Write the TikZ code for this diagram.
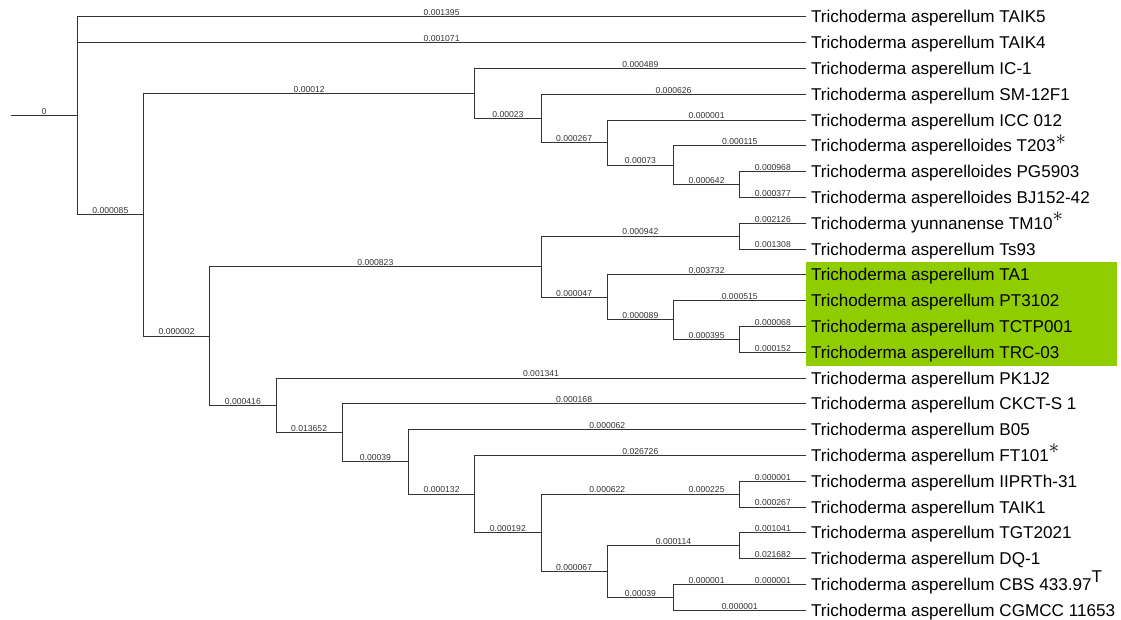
\documentclass[tikz,border=0pt]{standalone}
\usepackage{fontspec}
\setmainfont{Liberation Sans}
\usepackage{tikz}

\definecolor{cladegreen}{RGB}{143,204,0}
\newcommand{\typestar}{\raisebox{7.5pt}{\fontsize{21}{21}\selectfont$\ast$}}
\newcommand{\typemark}{\raisebox{8pt}{T}}

\tikzset{
  branch/.style={draw=black!80, line width=0.8pt},
  brlen/.style={font=\fontsize{8.6}{9}\selectfont, text=black!80, inner sep=0.6pt, above},
  strain/.style={anchor=west, inner xsep=5pt, inner ysep=0pt, outer sep=0pt,
    font=\fontsize{17.1}{20}\selectfont, text height=12.2pt, text depth=0pt}
}

\begin{document}
\begin{tikzpicture}[x=66.25pt, y=-25.8pt]
\useasboundingbox (-0.16604,-0.64729) rectangle (16.75472,23.34496);
% highlighted clade
\fill[cladegreen] (12,9.5) rectangle (16.687,13.52);
% strains
\node[strain] (taik5) at (12,0) {Trichoderma asperellum TAIK5};
\node[strain] (taik4) at (12,1) {Trichoderma asperellum TAIK4};
\node[strain] (ic1) at (12,2) {Trichoderma asperellum IC-1};
\node[strain] (sm12f1) at (12,3) {Trichoderma asperellum SM-12F1};
\node[strain] (icc012) at (12,4) {Trichoderma asperellum ICC 012};
\node[strain] (t203) at (12,5) {Trichoderma asperelloides T203\typestar};
\node[strain] (pg5903) at (12,6) {Trichoderma asperelloides PG5903};
\node[strain] (bj15242) at (12,7) {Trichoderma asperelloides BJ152-42};
\node[strain] (tm10) at (12,8) {Trichoderma yunnanense TM10\typestar};
\node[strain] (ts93) at (12,9) {Trichoderma asperellum Ts93};
\node[strain] (ta1) at (12,10) {Trichoderma asperellum TA1};
\node[strain] (pt3102) at (12,11) {Trichoderma asperellum PT3102};
\node[strain] (tctp001) at (12,12) {Trichoderma asperellum TCTP001};
\node[strain] (trc03) at (12,13) {Trichoderma asperellum TRC-03};
\node[strain] (pk1j2) at (12,14) {Trichoderma asperellum PK1J2};
\node[strain] (ckcts1) at (12,15) {Trichoderma asperellum CKCT-S 1};
\node[strain] (b05) at (12,16) {Trichoderma asperellum B05};
\node[strain] (ft101) at (12,17) {Trichoderma asperellum FT101\typestar};
\node[strain] (iiprth31) at (12,18) {Trichoderma asperellum IIPRTh-31};
\node[strain] (taik1) at (12,19) {Trichoderma asperellum TAIK1};
\node[strain] (tgt2021) at (12,20) {Trichoderma asperellum TGT2021};
\node[strain] (dq1) at (12,21) {Trichoderma asperellum DQ-1};
\node[strain] (cbs) at (12,22) {Trichoderma asperellum CBS 433.97\typemark};
\node[strain] (cgmcc) at (12,23) {Trichoderma asperellum CGMCC 11653};
% internal nodes
\coordinate (stem) at (0,3.8359);
\coordinate (root) at (1,3.8359);
\coordinate (na) at (2,7.671875);
\coordinate (nb) at (7,2.96875);
\coordinate (nc) at (8,3.9375);
\coordinate (nd) at (9,4.875);
\coordinate (ne) at (10,5.75);
\coordinate (nf) at (11,6.5);
\coordinate (ng) at (3,12.375);
\coordinate (nh) at (8,9.6875);
\coordinate (ni) at (11,8.5);
\coordinate (nj) at (9,10.875);
\coordinate (nl) at (10,11.75);
\coordinate (nm) at (11,12.5);
\coordinate (nk) at (4,15.0625);
\coordinate (nn) at (5,16.125);
\coordinate (no) at (6,17.25);
\coordinate (np) at (7,18.5);
\coordinate (nq) at (8,20);
\coordinate (nr0) at (10,18.5);
\coordinate (nr) at (11,18.5);
\coordinate (ns) at (9,21.5);
\coordinate (nu) at (11,20.5);
\coordinate (nt) at (10,22.5);
\coordinate (nt0) at (11,22);
% branches
\draw[branch] (root) -- (stem) node[brlen, midway] {0};
\draw[branch] (root) |- (taik5) node[brlen, pos=0.75] {0.001395};
\draw[branch] (root) |- (taik4) node[brlen, pos=0.75] {0.001071};
\draw[branch] (root) |- (na) node[brlen, pos=0.75] {0.000085};
\draw[branch] (na) |- (nb) node[brlen, pos=0.75] {0.00012};
\draw[branch] (nb) |- (ic1) node[brlen, pos=0.75] {0.000489};
\draw[branch] (nb) |- (nc) node[brlen, pos=0.75] {0.00023};
\draw[branch] (nc) |- (sm12f1) node[brlen, pos=0.75] {0.000626};
\draw[branch] (nc) |- (nd) node[brlen, pos=0.75] {0.000267};
\draw[branch] (nd) |- (icc012) node[brlen, pos=0.75] {0.000001};
\draw[branch] (nd) |- (ne) node[brlen, pos=0.75] {0.00073};
\draw[branch] (ne) |- (t203) node[brlen, pos=0.75] {0.000115};
\draw[branch] (ne) |- (nf) node[brlen, pos=0.75] {0.000642};
\draw[branch] (nf) |- (pg5903) node[brlen, pos=0.75] {0.000968};
\draw[branch] (nf) |- (bj15242) node[brlen, pos=0.75] {0.000377};
\draw[branch] (na) |- (ng) node[brlen, pos=0.75] {0.000002};
\draw[branch] (ng) |- (nh) node[brlen, pos=0.75] {0.000823};
\draw[branch] (nh) |- (ni) node[brlen, pos=0.75] {0.000942};
\draw[branch] (ni) |- (tm10) node[brlen, pos=0.75] {0.002126};
\draw[branch] (ni) |- (ts93) node[brlen, pos=0.75] {0.001308};
\draw[branch] (nh) |- (nj) node[brlen, pos=0.75] {0.000047};
\draw[branch] (nj) |- (ta1) node[brlen, pos=0.75] {0.003732};
\draw[branch] (nj) |- (nl) node[brlen, pos=0.75] {0.000089};
\draw[branch] (nl) |- (pt3102) node[brlen, pos=0.75] {0.000515};
\draw[branch] (nl) |- (nm) node[brlen, pos=0.75] {0.000395};
\draw[branch] (nm) |- (tctp001) node[brlen, pos=0.75] {0.000068};
\draw[branch] (nm) |- (trc03) node[brlen, pos=0.75] {0.000152};
\draw[branch] (ng) |- (nk) node[brlen, pos=0.75] {0.000416};
\draw[branch] (nk) |- (pk1j2) node[brlen, pos=0.75] {0.001341};
\draw[branch] (nk) |- (nn) node[brlen, pos=0.75] {0.013652};
\draw[branch] (nn) |- (ckcts1) node[brlen, pos=0.75] {0.000168};
\draw[branch] (nn) |- (no) node[brlen, pos=0.75] {0.00039};
\draw[branch] (no) |- (b05) node[brlen, pos=0.75] {0.000062};
\draw[branch] (no) |- (np) node[brlen, pos=0.75] {0.000132};
\draw[branch] (np) |- (ft101) node[brlen, pos=0.75] {0.026726};
\draw[branch] (np) |- (nq) node[brlen, pos=0.75] {0.000192};
\draw[branch] (nq) |- (nr0) node[brlen, pos=0.75] {0.000622};
\draw[branch] (nr0) -- (nr) node[brlen, midway] {0.000225};
\draw[branch] (nr) |- (iiprth31) node[brlen, pos=0.75] {0.000001};
\draw[branch] (nr) |- (taik1) node[brlen, pos=0.75] {0.000267};
\draw[branch] (nq) |- (ns) node[brlen, pos=0.75] {0.000067};
\draw[branch] (ns) |- (nu) node[brlen, pos=0.75] {0.000114};
\draw[branch] (nu) |- (tgt2021) node[brlen, pos=0.75] {0.001041};
\draw[branch] (nu) |- (dq1) node[brlen, pos=0.75] {0.021682};
\draw[branch] (ns) |- (nt) node[brlen, pos=0.75] {0.00039};
\draw[branch] (nt) |- (nt0) node[brlen, pos=0.75] {0.000001};
\draw[branch] (nt0) -- (cbs) node[brlen, midway] {0.000001};
\draw[branch] (nt) |- (cgmcc) node[brlen, pos=0.75] {0.000001};
\end{tikzpicture}
\end{document}
